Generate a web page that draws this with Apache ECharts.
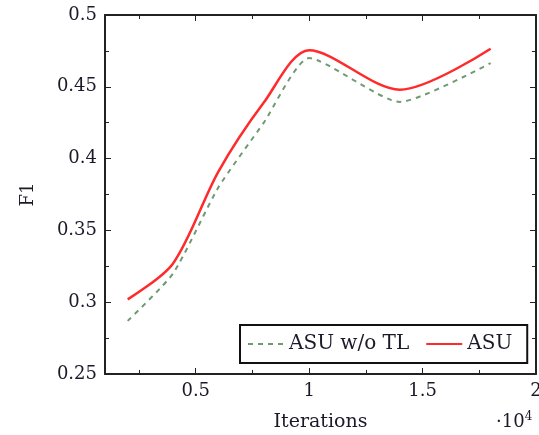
<!DOCTYPE html>
<html>
<head>
<meta charset="utf-8">
<script src="https://cdn.jsdelivr.net/npm/echarts@6/dist/echarts.min.js"></script>
<style>html,body{margin:0;padding:0;background:#fff}#c{width:539px;height:435px}</style>
</head>
<body>
<div id="c"></div>
<script>
const iterations = [0.2, 0.4, 0.6, 0.8, 1.0, 1.4, 1.8];
const asu = [0.302, 0.327, 0.391, 0.439, 0.4755, 0.448, 0.4765];
const asuWoTL = [0.287, 0.320, 0.380, 0.425, 0.470, 0.4395, 0.4665];
const xMajorTicks = [0.5, 1, 1.5, 2];
const xMinorTicks = [0.25, 0.75, 1.25, 1.75];
const seriesNames = ['ASU w/o TL', 'ASU'];

const FONT = '"DejaVu Serif", "Liberation Serif", serif';
const TXT = '#1a1a2a';
const AX = '#222';

const chart = echarts.init(document.getElementById('c'));
const common = {min: 0.1, max: 2, splitLine: {show: false}};
chart.setOption({
  animation: false,
  grid: {left: 105, right: 3, top: 15, bottom: 61, outerBoundsMode: 'none', containLabel: false},
  xAxis: [
    Object.assign({type: 'value', position: 'bottom',
      axisLine: {show: true, lineStyle: {color: AX, width: 2}},
      axisTick: {show: true, inside: true, length: 6, customValues: xMajorTicks, lineStyle: {color: AX, width: 1}},
      axisLabel: {customValues: xMajorTicks, margin: 8, fontFamily: FONT, fontSize: 18, color: TXT,
        formatter: v => String(v)},
      name: 'Iterations', nameLocation: 'middle', nameGap: 39,
      nameTextStyle: {fontFamily: FONT, fontSize: 19, color: TXT}
    }, common),
    Object.assign({type: 'value', position: 'bottom',
      axisLine: {show: false},
      axisTick: {show: true, inside: true, length: 4, customValues: xMinorTicks, lineStyle: {color: AX, width: 1}},
      axisLabel: {show: false}
    }, common),
    Object.assign({type: 'value', position: 'top',
      axisLine: {show: true, lineStyle: {color: AX, width: 2}},
      axisTick: {show: true, inside: true, length: 6, customValues: xMajorTicks, lineStyle: {color: AX, width: 1}},
      axisLabel: {show: false}
    }, common),
    Object.assign({type: 'value', position: 'top',
      axisLine: {show: false},
      axisTick: {show: true, inside: true, length: 4, customValues: xMinorTicks, lineStyle: {color: AX, width: 1}},
      axisLabel: {show: false}
    }, common)
  ],
  yAxis: [
    {type: 'value', position: 'left', min: 0.25, max: 0.5, interval: 0.05,
      splitLine: {show: false},
      axisLine: {show: true, lineStyle: {color: AX, width: 2}},
      axisTick: {show: true, inside: true, length: 6, lineStyle: {color: AX, width: 1}},
      minorTick: {show: true, splitNumber: 2, length: 4, lineStyle: {color: AX, width: 1}},
      axisLabel: {margin: 8, fontFamily: FONT, fontSize: 18, color: TXT, formatter: v => String(+v.toFixed(2))},
      name: 'F1', nameLocation: 'middle', nameGap: 68, nameRotate: 90,
      nameTextStyle: {fontFamily: FONT, fontSize: 18, color: TXT}
    },
    {type: 'value', position: 'right', min: 0.25, max: 0.5, interval: 0.05,
      splitLine: {show: false},
      axisLine: {show: true, lineStyle: {color: AX, width: 2}},
      axisTick: {show: true, inside: true, length: 6, lineStyle: {color: AX, width: 1}},
      minorTick: {show: true, splitNumber: 2, length: 4, lineStyle: {color: AX, width: 1}},
      axisLabel: {show: false}
    }
  ],
  legend: {
    left: 240, top: 325,
    data: seriesNames,
    borderColor: '#111', borderWidth: 2, borderRadius: 0,
    padding: [9, 15, 9, 7], itemGap: 16, itemWidth: 36, itemHeight: 14,
    itemStyle: {opacity: 0},
    textStyle: {fontFamily: FONT, fontSize: 20, color: TXT}
  },
  graphic: [{
    type: 'text', left: 496, top: 411,
    style: {text: '·10{s|4}', fontFamily: FONT, fontSize: 18, fill: TXT,
      rich: {s: {fontFamily: FONT, fontSize: 12, verticalAlign: 'top', padding: [0, 0, 10, 0]}}}
  }],
  series: [
    {name: seriesNames[0], type: 'line', smooth: 0.2, showSymbol: false, symbol: 'none',
      data: iterations.map((x, i) => [x, asuWoTL[i]]),
      lineStyle: {color: '#6f9a72', width: 2, type: [5, 5]}, itemStyle: {color: '#6f9a72'}},
    {name: seriesNames[1], type: 'line', smooth: 0.3, showSymbol: false, symbol: 'none',
      data: iterations.map((x, i) => [x, asu[i]]),
      lineStyle: {color: '#ff2a2a', width: 2.5}, itemStyle: {color: '#ff2a2a'}}
  ]
});
</script>
</body>
</html>
